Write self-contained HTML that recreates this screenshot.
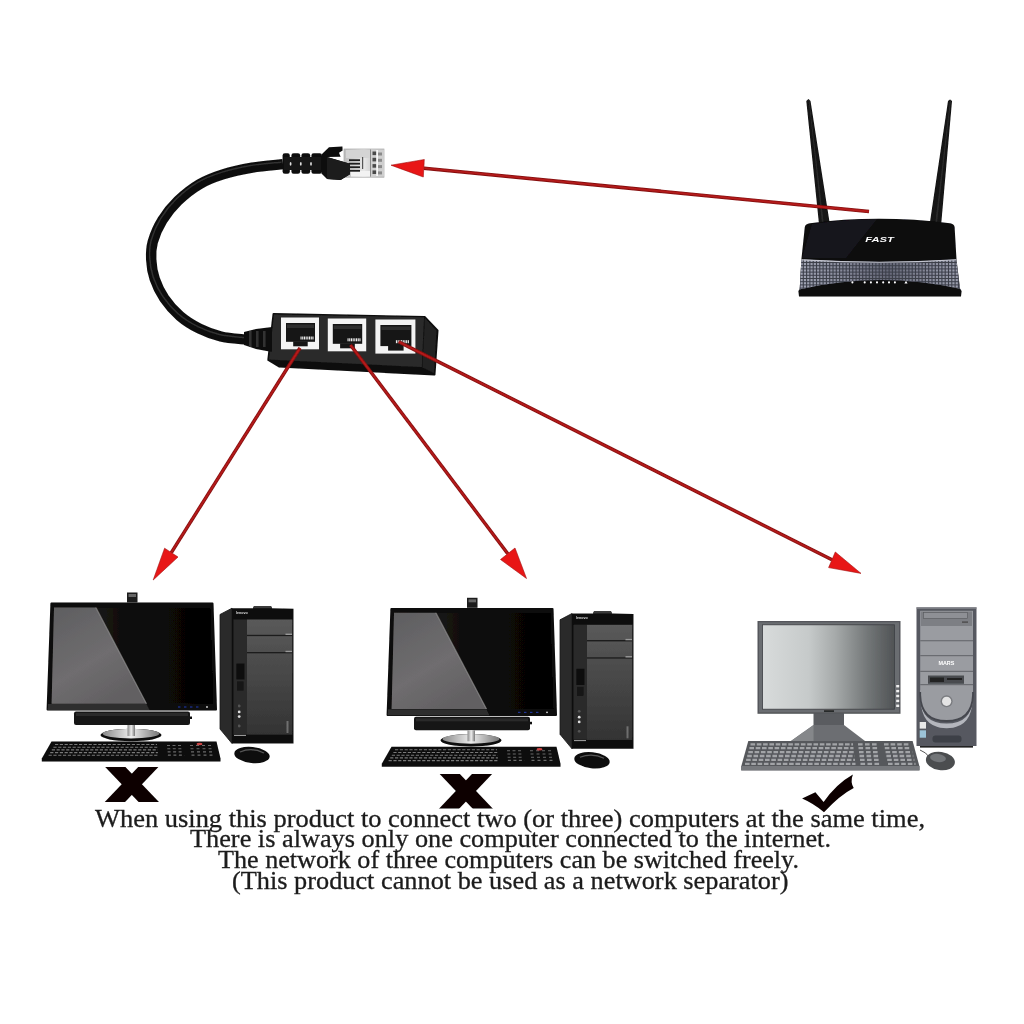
<!DOCTYPE html>
<html lang="en"><head><meta charset="utf-8"><title>RJ45 splitter diagram</title>
<style>html,body{margin:0;padding:0;background:#fff;}body{width:1024px;height:1024px;overflow:hidden;}svg{display:block;}</style>
</head><body>
<svg width="1024" height="1024" viewBox="0 0 1024 1024"><defs>
<linearGradient id="scr3" x1="0" x2="1" y1="0" y2="0"><stop offset="0" stop-color="#d8dbdb"/><stop offset="0.35" stop-color="#c6caca"/><stop offset="0.55" stop-color="#a6aaaa"/><stop offset="0.8" stop-color="#727677"/><stop offset="1" stop-color="#505355"/></linearGradient>
<linearGradient id="refl" x1="0" x2="0.6" y1="0" y2="1"><stop offset="0" stop-color="#5e5e60"/><stop offset="0.6" stop-color="#6f6d6f"/><stop offset="1" stop-color="#626062"/></linearGradient><linearGradient id="scrd" x1="0" x2="1" y1="0" y2="0"><stop offset="0" stop-color="#2a2622"/><stop offset="0.5" stop-color="#0c0b0a"/><stop offset="1" stop-color="#030303"/></linearGradient>
<linearGradient id="panel" x1="0" x2="0" y1="0" y2="1"><stop offset="0" stop-color="#5a5a5a"/><stop offset="1" stop-color="#333"/></linearGradient>
<linearGradient id="silver" x1="0" x2="1" y1="0" y2="0"><stop offset="0" stop-color="#888"/><stop offset="0.5" stop-color="#eee"/><stop offset="1" stop-color="#777"/></linearGradient>
<linearGradient id="grille" x1="0" x2="1" y1="0" y2="0"><stop offset="0" stop-color="#a4a7b6"/><stop offset="0.25" stop-color="#8a8d9d"/><stop offset="0.55" stop-color="#666978"/><stop offset="0.8" stop-color="#8a8d9d"/><stop offset="1" stop-color="#a0a3b2"/></linearGradient>
<linearGradient id="plug" x1="0" x2="1" y1="0" y2="0"><stop offset="0" stop-color="#bbb"/><stop offset="0.5" stop-color="#e8e8e8"/><stop offset="1" stop-color="#aaa"/></linearGradient>
<filter id="soft"><feGaussianBlur stdDeviation="0.45"/></filter>
</defs>
<g filter="url(#soft)">
<path d="M283.0,164.2 C277.9,164.8 262.2,165.9 252.2,167.6 C242.2,169.3 231.7,171.6 222.9,174.4 C214.1,177.2 207.0,179.8 199.5,184.2 C192.0,188.6 184.2,194.8 178.0,200.8 C171.8,206.8 166.5,213.5 162.3,220.3 C158.1,227.1 154.7,235.3 152.8,241.8 C151.0,248.3 150.9,253.2 151.2,259.4 C151.5,265.6 152.5,272.4 154.7,278.9 C156.9,285.4 160.1,292.2 164.3,298.4 C168.5,304.6 174.0,310.9 179.9,316.0 C185.8,321.1 192.7,325.3 199.5,328.7 C206.3,332.1 213.0,334.6 220.9,336.5 C228.8,338.4 242.7,339.2 247.0,339.8" fill="none" stroke="#0d0d0d" stroke-width="10.4"/>
<path d="M281.5,162.2 C276.4,162.8 260.7,163.9 250.7,165.6 C240.7,167.3 230.2,169.6 221.4,172.4 C212.6,175.2 205.5,177.8 198.0,182.2 C190.5,186.6 182.7,192.8 176.5,198.8 C170.3,204.8 165.0,211.5 160.8,218.3 C156.6,225.1 153.2,233.3 151.3,239.8 C149.5,246.3 149.4,251.2 149.7,257.4 C150.0,263.6 151.0,270.4 153.2,276.9 C155.4,283.4 158.6,290.2 162.8,296.4 C167.0,302.6 172.5,308.9 178.4,314.0 C184.3,319.1 191.2,323.3 198.0,326.7 C204.8,330.1 211.5,332.6 219.4,334.5 C227.3,336.4 241.2,337.2 245.5,337.8" fill="none" stroke="#3a3a3a" stroke-width="1.5" opacity="0.8"/>
<g>
<rect x="344" y="149" width="40" height="28.2" fill="url(#plug)" stroke="#a8a8a8" stroke-width="0.7"/>
<rect x="346" y="150" width="24" height="8" fill="#d4d4d4"/>
<rect x="351" y="171" width="20" height="5.5" fill="#f2f2f2"/>
<rect x="370.5" y="149.5" width="13.5" height="27.2" fill="#cfcfcf"/>
<line x1="370.5" y1="149.5" x2="370.5" y2="176.7" stroke="#777" stroke-width="0.8"/>
<rect x="372.5" y="151.5" width="4" height="3.6" fill="#4a4a4a"/>
<rect x="378" y="152.5" width="4" height="3" fill="#8a8a8a"/>
<rect x="372.5" y="157.8" width="4" height="3.6" fill="#4a4a4a"/>
<rect x="378" y="158.8" width="4" height="3" fill="#8a8a8a"/>
<rect x="372.5" y="164.1" width="4" height="3.6" fill="#4a4a4a"/>
<rect x="378" y="165.1" width="4" height="3" fill="#8a8a8a"/>
<rect x="372.5" y="170.4" width="4" height="3.6" fill="#4a4a4a"/>
<rect x="378" y="171.4" width="4" height="3" fill="#8a8a8a"/>
<rect x="376.3" y="150" width="1.6" height="26" fill="#fafafa"/>
<rect x="349" y="159.3" width="11" height="1.8" fill="#1a1a1a"/>
<rect x="349" y="162.8" width="11" height="1.8" fill="#1a1a1a"/>
<rect x="349" y="166.3" width="11" height="1.8" fill="#1a1a1a"/>
<rect x="349" y="169.9" width="11" height="1.8" fill="#1a1a1a"/>
<rect x="362" y="157" width="1.2" height="12" fill="#555"/>
<polygon points="321.5,154.5 329,147.2 342.4,146.6 342.6,150.5 339,152.8 340.6,156.8 327,157 350,163.7 350,174.3 340.6,180 327,179 321.5,173.5" fill="#0d0d0d"/>
<polygon points="327,157 350,163.7 350,174.3 340.6,180 327,179" fill="#1c1c1c"/>
<rect x="282.6" y="153.2" width="7.2" height="20.5" rx="2.2" fill="#0e0e0e"/>
<rect x="291.4" y="153.2" width="8.8" height="20.5" rx="2.2" fill="#0e0e0e"/>
<rect x="301.4" y="153.2" width="8.8" height="20.5" rx="2.2" fill="#0e0e0e"/>
<rect x="311.4" y="153.2" width="10.6" height="20.5" rx="2.2" fill="#0e0e0e"/>
<rect x="284" y="157" width="37" height="13" fill="#181818"/>
<ellipse cx="290.59999999999997" cy="163.9" rx="0.9" ry="1.8" fill="#ddd"/>
<ellipse cx="300.79999999999995" cy="163.9" rx="0.9" ry="1.8" fill="#ddd"/>
<ellipse cx="311.0" cy="163.9" rx="0.9" ry="1.8" fill="#ddd"/>
</g>
<polygon points="273.5,314 424.6,317 437.5,330.5 434.5,374.5 279,366.5 268.3,360" fill="#111" stroke="#0d0d0d" stroke-width="2" stroke-linejoin="round"/>
<polygon points="274,314.5 424,317.2 421.8,367 269,359.5" fill="#2b2b2b"/>
<polygon points="425,318 436.5,330.8 434,373 422.5,367.5" fill="#222"/>
<polygon points="269,360.5 422,368 434,374.5 279.5,366.3" fill="#0b0b0b"/>
<polygon points="244,332 256,329 272,327 272,352 256,349 244,345" fill="#111"/>
<rect x="249" y="331" width="2.5" height="16" fill="#333"/>
<rect x="256" y="331" width="2.5" height="16" fill="#333"/>
<rect x="263" y="331" width="2.5" height="16" fill="#333"/>
<rect x="281" y="317.5" width="38.0" height="31.8" fill="#f4f4f4"/>
<rect x="286.0" y="323.0" width="29.0" height="18.8" fill="#161616"/>
<rect x="293.2" y="341.3" width="14.5" height="5" fill="#161616"/>
<rect x="300.5" y="336.5" width="1.1" height="3" fill="#eee"/>
<rect x="302.2" y="336.5" width="1.1" height="3" fill="#eee"/>
<rect x="303.9" y="336.5" width="1.1" height="3" fill="#eee"/>
<rect x="305.6" y="336.5" width="1.1" height="3" fill="#eee"/>
<rect x="307.3" y="336.5" width="1.1" height="3" fill="#eee"/>
<rect x="309.0" y="336.5" width="1.1" height="3" fill="#eee"/>
<rect x="310.7" y="336.5" width="1.1" height="3" fill="#eee"/>
<rect x="312.4" y="336.5" width="1.1" height="3" fill="#eee"/>
<rect x="287.0" y="324.5" width="27.0" height="3.5" fill="#2e2e2e"/>
<rect x="327.8" y="318.5" width="38.4" height="32.8" fill="#f4f4f4"/>
<rect x="332.8" y="324.0" width="29.4" height="19.8" fill="#161616"/>
<rect x="340.1" y="343.3" width="14.7" height="5" fill="#161616"/>
<rect x="347.5" y="338.3" width="1.1" height="3" fill="#eee"/>
<rect x="349.2" y="338.3" width="1.1" height="3" fill="#eee"/>
<rect x="350.9" y="338.3" width="1.1" height="3" fill="#eee"/>
<rect x="352.6" y="338.3" width="1.1" height="3" fill="#eee"/>
<rect x="354.3" y="338.3" width="1.1" height="3" fill="#eee"/>
<rect x="356.0" y="338.3" width="1.1" height="3" fill="#eee"/>
<rect x="357.7" y="338.3" width="1.1" height="3" fill="#eee"/>
<rect x="359.4" y="338.3" width="1.1" height="3" fill="#eee"/>
<rect x="333.8" y="325.5" width="27.4" height="3.5" fill="#2e2e2e"/>
<rect x="375.4" y="319.5" width="40.0" height="34.1" fill="#f4f4f4"/>
<rect x="380.4" y="325.0" width="31.0" height="21.1" fill="#161616"/>
<rect x="388.1" y="345.6" width="15.5" height="5" fill="#161616"/>
<rect x="395.9" y="340.2" width="1.1" height="3" fill="#eee"/>
<rect x="397.6" y="340.2" width="1.1" height="3" fill="#eee"/>
<rect x="399.3" y="340.2" width="1.1" height="3" fill="#eee"/>
<rect x="401.0" y="340.2" width="1.1" height="3" fill="#eee"/>
<rect x="402.7" y="340.2" width="1.1" height="3" fill="#eee"/>
<rect x="404.4" y="340.2" width="1.1" height="3" fill="#eee"/>
<rect x="406.1" y="340.2" width="1.1" height="3" fill="#eee"/>
<rect x="407.8" y="340.2" width="1.1" height="3" fill="#eee"/>
<rect x="381.4" y="326.5" width="29.0" height="3.5" fill="#2e2e2e"/>
<polygon points="806.3,101 808.4,99 810.5,101 829.8,224 819,224" fill="#121212"/>
<polygon points="808.4,99 809.4,100 824,224 822,224" fill="#333" opacity="0.7"/>
<polygon points="948,101 950,99.5 952,101 941.2,224 929.7,224" fill="#121212"/>
<polygon points="950,99.5 951,100.5 937,224 935,224" fill="#333" opacity="0.7"/>
<path d="M804.8,227 Q805.5,223.8 810,223.2 Q878,214.3 950,223.2 Q954,223.8 954.6,227 L956.5,259.5 L960,288.5 L961.6,291 L961,296.4 L799,296.4 L798.4,291 L799.7,289 L801.4,259.5 Z" fill="#0a0a0c"/>
<path d="M812,224 Q845,219.5 877,219 L846,258 L802,258 Z" fill="#1d1822" opacity="0.8"/>
<clipPath id="gcl"><path d="M801.4,259.5 Q880,264.5 956.3,259.5 L959.8,288.8 Q880,271 799.7,289.4 Z"/></clipPath>
<g clip-path="url(#gcl)"><rect x="795" y="255" width="170" height="40" fill="url(#grille)"/>
<line x1="800.0" y1="258" x2="800.0" y2="291" stroke="#3c3f4a" stroke-width="1.1"/>
<line x1="803.3" y1="258" x2="803.3" y2="291" stroke="#3c3f4a" stroke-width="1.1"/>
<line x1="806.6" y1="258" x2="806.6" y2="291" stroke="#3c3f4a" stroke-width="1.1"/>
<line x1="809.9" y1="258" x2="809.9" y2="291" stroke="#3c3f4a" stroke-width="1.1"/>
<line x1="813.2" y1="258" x2="813.2" y2="291" stroke="#3c3f4a" stroke-width="1.1"/>
<line x1="816.5" y1="258" x2="816.5" y2="291" stroke="#3c3f4a" stroke-width="1.1"/>
<line x1="819.8" y1="258" x2="819.8" y2="291" stroke="#3c3f4a" stroke-width="1.1"/>
<line x1="823.1" y1="258" x2="823.1" y2="291" stroke="#3c3f4a" stroke-width="1.1"/>
<line x1="826.4" y1="258" x2="826.4" y2="291" stroke="#3c3f4a" stroke-width="1.1"/>
<line x1="829.7" y1="258" x2="829.7" y2="291" stroke="#3c3f4a" stroke-width="1.1"/>
<line x1="833.0" y1="258" x2="833.0" y2="291" stroke="#3c3f4a" stroke-width="1.1"/>
<line x1="836.3" y1="258" x2="836.3" y2="291" stroke="#3c3f4a" stroke-width="1.1"/>
<line x1="839.6" y1="258" x2="839.6" y2="291" stroke="#3c3f4a" stroke-width="1.1"/>
<line x1="842.9" y1="258" x2="842.9" y2="291" stroke="#3c3f4a" stroke-width="1.1"/>
<line x1="846.2" y1="258" x2="846.2" y2="291" stroke="#3c3f4a" stroke-width="1.1"/>
<line x1="849.5" y1="258" x2="849.5" y2="291" stroke="#3c3f4a" stroke-width="1.1"/>
<line x1="852.8" y1="258" x2="852.8" y2="291" stroke="#3c3f4a" stroke-width="1.1"/>
<line x1="856.1" y1="258" x2="856.1" y2="291" stroke="#3c3f4a" stroke-width="1.1"/>
<line x1="859.4" y1="258" x2="859.4" y2="291" stroke="#3c3f4a" stroke-width="1.1"/>
<line x1="862.7" y1="258" x2="862.7" y2="291" stroke="#3c3f4a" stroke-width="1.1"/>
<line x1="866.0" y1="258" x2="866.0" y2="291" stroke="#3c3f4a" stroke-width="1.1"/>
<line x1="869.3" y1="258" x2="869.3" y2="291" stroke="#3c3f4a" stroke-width="1.1"/>
<line x1="872.6" y1="258" x2="872.6" y2="291" stroke="#3c3f4a" stroke-width="1.1"/>
<line x1="875.9" y1="258" x2="875.9" y2="291" stroke="#3c3f4a" stroke-width="1.1"/>
<line x1="879.2" y1="258" x2="879.2" y2="291" stroke="#3c3f4a" stroke-width="1.1"/>
<line x1="882.5" y1="258" x2="882.5" y2="291" stroke="#3c3f4a" stroke-width="1.1"/>
<line x1="885.8" y1="258" x2="885.8" y2="291" stroke="#3c3f4a" stroke-width="1.1"/>
<line x1="889.1" y1="258" x2="889.1" y2="291" stroke="#3c3f4a" stroke-width="1.1"/>
<line x1="892.4" y1="258" x2="892.4" y2="291" stroke="#3c3f4a" stroke-width="1.1"/>
<line x1="895.7" y1="258" x2="895.7" y2="291" stroke="#3c3f4a" stroke-width="1.1"/>
<line x1="899.0" y1="258" x2="899.0" y2="291" stroke="#3c3f4a" stroke-width="1.1"/>
<line x1="902.3" y1="258" x2="902.3" y2="291" stroke="#3c3f4a" stroke-width="1.1"/>
<line x1="905.6" y1="258" x2="905.6" y2="291" stroke="#3c3f4a" stroke-width="1.1"/>
<line x1="908.9" y1="258" x2="908.9" y2="291" stroke="#3c3f4a" stroke-width="1.1"/>
<line x1="912.2" y1="258" x2="912.2" y2="291" stroke="#3c3f4a" stroke-width="1.1"/>
<line x1="915.5" y1="258" x2="915.5" y2="291" stroke="#3c3f4a" stroke-width="1.1"/>
<line x1="918.8" y1="258" x2="918.8" y2="291" stroke="#3c3f4a" stroke-width="1.1"/>
<line x1="922.1" y1="258" x2="922.1" y2="291" stroke="#3c3f4a" stroke-width="1.1"/>
<line x1="925.4" y1="258" x2="925.4" y2="291" stroke="#3c3f4a" stroke-width="1.1"/>
<line x1="928.7" y1="258" x2="928.7" y2="291" stroke="#3c3f4a" stroke-width="1.1"/>
<line x1="932.0" y1="258" x2="932.0" y2="291" stroke="#3c3f4a" stroke-width="1.1"/>
<line x1="935.3" y1="258" x2="935.3" y2="291" stroke="#3c3f4a" stroke-width="1.1"/>
<line x1="938.6" y1="258" x2="938.6" y2="291" stroke="#3c3f4a" stroke-width="1.1"/>
<line x1="941.9" y1="258" x2="941.9" y2="291" stroke="#3c3f4a" stroke-width="1.1"/>
<line x1="945.2" y1="258" x2="945.2" y2="291" stroke="#3c3f4a" stroke-width="1.1"/>
<line x1="948.5" y1="258" x2="948.5" y2="291" stroke="#3c3f4a" stroke-width="1.1"/>
<line x1="951.8" y1="258" x2="951.8" y2="291" stroke="#3c3f4a" stroke-width="1.1"/>
<line x1="955.1" y1="258" x2="955.1" y2="291" stroke="#3c3f4a" stroke-width="1.1"/>
<line x1="958.4" y1="258" x2="958.4" y2="291" stroke="#3c3f4a" stroke-width="1.1"/>
<line x1="961.7" y1="258" x2="961.7" y2="291" stroke="#3c3f4a" stroke-width="1.1"/>
<line x1="798" y1="262.5" x2="962" y2="262.5" stroke="#3c3f4a" stroke-width="1"/>
<line x1="798" y1="265.7" x2="962" y2="265.7" stroke="#3c3f4a" stroke-width="1"/>
<line x1="798" y1="268.9" x2="962" y2="268.9" stroke="#3c3f4a" stroke-width="1"/>
<line x1="798" y1="272.1" x2="962" y2="272.1" stroke="#3c3f4a" stroke-width="1"/>
<line x1="798" y1="275.3" x2="962" y2="275.3" stroke="#3c3f4a" stroke-width="1"/>
<line x1="798" y1="278.5" x2="962" y2="278.5" stroke="#3c3f4a" stroke-width="1"/>
<line x1="798" y1="281.7" x2="962" y2="281.7" stroke="#3c3f4a" stroke-width="1"/>
<line x1="798" y1="284.9" x2="962" y2="284.9" stroke="#3c3f4a" stroke-width="1"/>
<line x1="798" y1="288.1" x2="962" y2="288.1" stroke="#3c3f4a" stroke-width="1"/>
</g>
<path d="M801.4,259.8 Q880,264.8 956.3,259.8" fill="none" stroke="#c4c6d0" stroke-width="1.1"/>
<circle cx="852.4" cy="282.4" r="1.05" fill="#fff"/>
<circle cx="864.7" cy="282.4" r="1.05" fill="#fff"/>
<circle cx="870.9" cy="282.4" r="1.05" fill="#fff"/>
<circle cx="877" cy="282.4" r="1.05" fill="#fff"/>
<circle cx="883.2" cy="282.4" r="1.05" fill="#fff"/>
<circle cx="889" cy="282.4" r="1.05" fill="#fff"/>
<circle cx="894.9" cy="282.4" r="1.05" fill="#fff"/>
<polygon points="904.4,283.6 906,280.8 907.6,283.6" fill="#fff"/>
<text x="879.5" y="241.9" font-family="'Liberation Sans', sans-serif" font-weight="bold" font-style="italic" font-size="7.4" fill="#fff" text-anchor="middle" textLength="28.5" lengthAdjust="spacingAndGlyphs">FAST</text>
<g transform="translate(0,0)">
<rect x="127" y="592.5" width="10.5" height="10" fill="#1a1a1a"/><rect x="128.5" y="594" width="7.5" height="3" fill="#666"/>
<polygon points="51.4,603.6 212.5,603.6 216,709.6 47.6,709.6" fill="#0a0a0a" stroke="#0a0a0a" stroke-width="2" stroke-linejoin="round"/>
<polygon points="54,607.5 210.5,607.5 213.5,703.7 51.6,703.7" fill="url(#scrd)"/>
<polygon points="54,607.5 95.7,607.5 146.5,703.7 51.6,703.7" fill="url(#refl)"/>
<polygon points="48,704 146.5,704 149.5,710 47.6,710" fill="#2e2e2e"/>
<polygon points="95.2,607.5 96.6,607.5 147.2,703.7 145.8,703.7" fill="#aaa" opacity="0.55"/>
<rect x="178" y="706.5" width="2.5" height="1" fill="#35f" opacity="0.7"/>
<rect x="184" y="706.5" width="2.5" height="1" fill="#35f" opacity="0.7"/>
<rect x="190" y="706.5" width="2.5" height="1" fill="#35f" opacity="0.7"/>
<rect x="196" y="706.5" width="2.5" height="1" fill="#35f" opacity="0.7"/>
<circle cx="207" cy="707" r="0.9" fill="#ddd"/>
<rect x="74" y="711.5" width="116" height="13.5" rx="2" fill="#161616"/>
<rect x="76" y="713" width="112" height="3" fill="#2c2c2c"/>
<rect x="190" y="716.5" width="2" height="2.5" fill="#111"/>
<ellipse cx="131" cy="735" rx="30.5" ry="6.2" fill="#0a0a0a"/>
<ellipse cx="131" cy="733.6" rx="28.5" ry="4.8" fill="url(#silver)"/>
<rect x="127.5" y="725" width="7.5" height="11" fill="url(#silver)"/>
<polygon points="51.5,741.5 216.5,741.5 220.5,758.5 220.5,761.5 41.8,761.5 41.8,758.5" fill="#0c0c0c"/>
<line x1="55.0" y1="744.5" x2="157.0" y2="744.5" stroke="#787878" stroke-width="1.1" stroke-dasharray="3.2 1.6"/>
<line x1="53.4" y1="747.2" x2="157.3" y2="747.2" stroke="#787878" stroke-width="1.1" stroke-dasharray="3.2 1.6"/>
<line x1="51.8" y1="749.9" x2="157.6" y2="749.9" stroke="#787878" stroke-width="1.1" stroke-dasharray="3.2 1.6"/>
<line x1="50.2" y1="752.6" x2="157.9" y2="752.6" stroke="#787878" stroke-width="1.1" stroke-dasharray="3.2 1.6"/>
<line x1="48.6" y1="755.3" x2="158.2" y2="755.3" stroke="#787878" stroke-width="1.1" stroke-dasharray="3.2 1.6"/>
<line x1="167.0" y1="745.5" x2="183.0" y2="745.5" stroke="#6a6a6a" stroke-width="1.1" stroke-dasharray="3 2.5"/>
<line x1="190.0" y1="745.5" x2="213.0" y2="745.5" stroke="#6a6a6a" stroke-width="1.1" stroke-dasharray="3 3"/>
<line x1="167.3" y1="748.7" x2="183.5" y2="748.7" stroke="#6a6a6a" stroke-width="1.1" stroke-dasharray="3 2.5"/>
<line x1="190.5" y1="748.7" x2="213.8" y2="748.7" stroke="#6a6a6a" stroke-width="1.1" stroke-dasharray="3 3"/>
<line x1="167.6" y1="751.9" x2="184.0" y2="751.9" stroke="#6a6a6a" stroke-width="1.1" stroke-dasharray="3 2.5"/>
<line x1="191.0" y1="751.9" x2="214.6" y2="751.9" stroke="#6a6a6a" stroke-width="1.1" stroke-dasharray="3 3"/>
<line x1="167.9" y1="755.1" x2="184.5" y2="755.1" stroke="#6a6a6a" stroke-width="1.1" stroke-dasharray="3 2.5"/>
<line x1="191.5" y1="755.1" x2="215.4" y2="755.1" stroke="#6a6a6a" stroke-width="1.1" stroke-dasharray="3 3"/>
<ellipse cx="199.5" cy="744" rx="3" ry="1.2" fill="#c44"/>
<polygon points="220,614.5 232,608.2 232,743.5 220,729" fill="#2c2c2c" stroke="#111" stroke-width="0.8"/>
<polygon points="232,608.2 253,608.2 254,606 271,606 272,608.2 293.5,608.8 293.5,743.5 232,743.5" fill="#0e0e0e"/>
<polygon points="254,606 271,606 272,608.2 253,608.2" fill="#3a3a3a"/>
<rect x="233.5" y="619.5" width="13.5" height="115" fill="#2a2a2a"/>
<rect x="247" y="619.5" width="45.3" height="115.2" fill="url(#panel)"/>
<rect x="247" y="634.8" width="45.3" height="1.3" fill="#1a1a1a"/><rect x="247" y="652" width="45.3" height="1.3" fill="#1a1a1a"/>
<rect x="285.5" y="633.6" width="6.5" height="1.4" fill="#999"/><rect x="285.5" y="650.8" width="6.5" height="1.4" fill="#999"/>
<rect x="236.4" y="663.5" width="8" height="16" fill="#0a0a0a"/><rect x="237" y="681.5" width="6.5" height="9" fill="#141414"/>
<circle cx="239.2" cy="706" r="1.4" fill="#555"/>
<circle cx="239.2" cy="711.9" r="1.4" fill="#ddd"/>
<circle cx="239.2" cy="716.6" r="1.4" fill="#ddd"/>
<circle cx="239.2" cy="726" r="1.4" fill="#555"/>
<rect x="234" y="734.9" width="12" height="0.9" fill="#bbb"/>
<rect x="286.5" y="721" width="2" height="12" fill="#888" opacity="0.7"/>
<text x="241.8" y="614" font-family="'Liberation Sans', sans-serif" font-weight="bold" font-size="3.6" fill="#ddd" text-anchor="middle">lenovo</text>
<ellipse cx="252" cy="755" rx="17.8" ry="8" fill="#101010" transform="rotate(6 252 755)"/>
<path d="M240,752 Q252,747 264,753" fill="none" stroke="#777" stroke-width="1.2" opacity="0.7"/>
</g>
<g transform="translate(340,5.3)">
<rect x="127" y="592.5" width="10.5" height="10" fill="#1a1a1a"/><rect x="128.5" y="594" width="7.5" height="3" fill="#666"/>
<polygon points="51.4,603.6 212.5,603.6 216,709.6 47.6,709.6" fill="#0a0a0a" stroke="#0a0a0a" stroke-width="2" stroke-linejoin="round"/>
<polygon points="54,607.5 210.5,607.5 213.5,703.7 51.6,703.7" fill="url(#scrd)"/>
<polygon points="54,607.5 95.7,607.5 146.5,703.7 51.6,703.7" fill="url(#refl)"/>
<polygon points="48,704 146.5,704 149.5,710 47.6,710" fill="#2e2e2e"/>
<polygon points="95.2,607.5 96.6,607.5 147.2,703.7 145.8,703.7" fill="#aaa" opacity="0.55"/>
<rect x="178" y="706.5" width="2.5" height="1" fill="#35f" opacity="0.7"/>
<rect x="184" y="706.5" width="2.5" height="1" fill="#35f" opacity="0.7"/>
<rect x="190" y="706.5" width="2.5" height="1" fill="#35f" opacity="0.7"/>
<rect x="196" y="706.5" width="2.5" height="1" fill="#35f" opacity="0.7"/>
<circle cx="207" cy="707" r="0.9" fill="#ddd"/>
<rect x="74" y="711.5" width="116" height="13.5" rx="2" fill="#161616"/>
<rect x="76" y="713" width="112" height="3" fill="#2c2c2c"/>
<rect x="190" y="716.5" width="2" height="2.5" fill="#111"/>
<ellipse cx="131" cy="735" rx="30.5" ry="6.2" fill="#0a0a0a"/>
<ellipse cx="131" cy="733.6" rx="28.5" ry="4.8" fill="url(#silver)"/>
<rect x="127.5" y="725" width="7.5" height="11" fill="url(#silver)"/>
<polygon points="51.5,741.5 216.5,741.5 220.5,758.5 220.5,761.5 41.8,761.5 41.8,758.5" fill="#0c0c0c"/>
<line x1="55.0" y1="744.5" x2="157.0" y2="744.5" stroke="#787878" stroke-width="1.1" stroke-dasharray="3.2 1.6"/>
<line x1="53.4" y1="747.2" x2="157.3" y2="747.2" stroke="#787878" stroke-width="1.1" stroke-dasharray="3.2 1.6"/>
<line x1="51.8" y1="749.9" x2="157.6" y2="749.9" stroke="#787878" stroke-width="1.1" stroke-dasharray="3.2 1.6"/>
<line x1="50.2" y1="752.6" x2="157.9" y2="752.6" stroke="#787878" stroke-width="1.1" stroke-dasharray="3.2 1.6"/>
<line x1="48.6" y1="755.3" x2="158.2" y2="755.3" stroke="#787878" stroke-width="1.1" stroke-dasharray="3.2 1.6"/>
<line x1="167.0" y1="745.5" x2="183.0" y2="745.5" stroke="#6a6a6a" stroke-width="1.1" stroke-dasharray="3 2.5"/>
<line x1="190.0" y1="745.5" x2="213.0" y2="745.5" stroke="#6a6a6a" stroke-width="1.1" stroke-dasharray="3 3"/>
<line x1="167.3" y1="748.7" x2="183.5" y2="748.7" stroke="#6a6a6a" stroke-width="1.1" stroke-dasharray="3 2.5"/>
<line x1="190.5" y1="748.7" x2="213.8" y2="748.7" stroke="#6a6a6a" stroke-width="1.1" stroke-dasharray="3 3"/>
<line x1="167.6" y1="751.9" x2="184.0" y2="751.9" stroke="#6a6a6a" stroke-width="1.1" stroke-dasharray="3 2.5"/>
<line x1="191.0" y1="751.9" x2="214.6" y2="751.9" stroke="#6a6a6a" stroke-width="1.1" stroke-dasharray="3 3"/>
<line x1="167.9" y1="755.1" x2="184.5" y2="755.1" stroke="#6a6a6a" stroke-width="1.1" stroke-dasharray="3 2.5"/>
<line x1="191.5" y1="755.1" x2="215.4" y2="755.1" stroke="#6a6a6a" stroke-width="1.1" stroke-dasharray="3 3"/>
<ellipse cx="199.5" cy="744" rx="3" ry="1.2" fill="#c44"/>
<polygon points="220,614.5 232,608.2 232,743.5 220,729" fill="#2c2c2c" stroke="#111" stroke-width="0.8"/>
<polygon points="232,608.2 253,608.2 254,606 271,606 272,608.2 293.5,608.8 293.5,743.5 232,743.5" fill="#0e0e0e"/>
<polygon points="254,606 271,606 272,608.2 253,608.2" fill="#3a3a3a"/>
<rect x="233.5" y="619.5" width="13.5" height="115" fill="#2a2a2a"/>
<rect x="247" y="619.5" width="45.3" height="115.2" fill="url(#panel)"/>
<rect x="247" y="634.8" width="45.3" height="1.3" fill="#1a1a1a"/><rect x="247" y="652" width="45.3" height="1.3" fill="#1a1a1a"/>
<rect x="285.5" y="633.6" width="6.5" height="1.4" fill="#999"/><rect x="285.5" y="650.8" width="6.5" height="1.4" fill="#999"/>
<rect x="236.4" y="663.5" width="8" height="16" fill="#0a0a0a"/><rect x="237" y="681.5" width="6.5" height="9" fill="#141414"/>
<circle cx="239.2" cy="706" r="1.4" fill="#555"/>
<circle cx="239.2" cy="711.9" r="1.4" fill="#ddd"/>
<circle cx="239.2" cy="716.6" r="1.4" fill="#ddd"/>
<circle cx="239.2" cy="726" r="1.4" fill="#555"/>
<rect x="234" y="734.9" width="12" height="0.9" fill="#bbb"/>
<rect x="286.5" y="721" width="2" height="12" fill="#888" opacity="0.7"/>
<text x="241.8" y="614" font-family="'Liberation Sans', sans-serif" font-weight="bold" font-size="3.6" fill="#ddd" text-anchor="middle">lenovo</text>
<ellipse cx="252" cy="755" rx="17.8" ry="8" fill="#101010" transform="rotate(6 252 755)"/>
<path d="M240,752 Q252,747 264,753" fill="none" stroke="#777" stroke-width="1.2" opacity="0.7"/>
</g>
<g><clipPath id="xc131"><rect x="91.69999999999999" y="767.4" width="80" height="34.200000000000045"/></clipPath><g clip-path="url(#xc131)" stroke="#0a0606" stroke-width="14.6"><line x1="109.96" y1="761.4" x2="154.14" y2="807.6"/><line x1="153.64" y1="761.4" x2="109.55999999999999" y2="807.6"/></g></g>
<g><clipPath id="xc465"><rect x="425.8" y="774" width="80" height="34.39999999999998"/></clipPath><g clip-path="url(#xc465)" stroke="#0a0606" stroke-width="14.6"><line x1="444.06" y1="768" x2="488.24" y2="814.4"/><line x1="487.74" y1="768" x2="443.66" y2="814.4"/></g></g>
<g>
<rect x="813.5" y="713" width="30.5" height="26" fill="#5a5c60"/>
<polygon points="813.5,725 844,725 865,741 791,741" fill="#6c6e72"/>
<polygon points="813.5,725 813.5,741 791,741" fill="#85878a"/>
<rect x="757.5" y="621" width="143" height="92.8" fill="#55575b"/>
<rect x="759" y="622.3" width="140" height="90" fill="#6b6d71"/>
<rect x="762.5" y="624.8" width="132" height="84.4" fill="url(#scr3)" stroke="#3c3e42" stroke-width="0.8"/>
<rect x="896.2" y="685.0" width="3" height="2.4" fill="#f0f0f0"/>
<rect x="896.2" y="689.9" width="3" height="2.4" fill="#f0f0f0"/>
<rect x="896.2" y="694.8" width="3" height="2.4" fill="#f0f0f0"/>
<rect x="896.2" y="699.7" width="3" height="2.4" fill="#f0f0f0"/>
<rect x="896.2" y="704.6" width="3" height="2.4" fill="#f0f0f0"/>
<rect x="824" y="710.3" width="10" height="1.6" fill="#222"/>
<polygon points="748.3,741 912.6,741 919.5,766.5 919.5,770.3 741.2,770.3 741.2,766.5" fill="#56585c"/>
<polygon points="741.2,766 919.5,766 919.5,770.6 741.2,770.6" fill="#77797d"/>
<line x1="750.5" y1="744.3" x2="853.0" y2="744.3" stroke="#a2a4a7" stroke-width="2.3" stroke-dasharray="4.6 1.7"/>
<line x1="858.0" y1="744.3" x2="878.0" y2="744.3" stroke="#a2a4a7" stroke-width="2.3" stroke-dasharray="4.6 2.4"/>
<line x1="884.0" y1="744.3" x2="910.0" y2="744.3" stroke="#a2a4a7" stroke-width="2.3" stroke-dasharray="4.6 2"/>
<line x1="749.4" y1="748.2" x2="853.5" y2="748.2" stroke="#a2a4a7" stroke-width="2.3" stroke-dasharray="4.6 1.7"/>
<line x1="858.5" y1="748.2" x2="878.7" y2="748.2" stroke="#a2a4a7" stroke-width="2.3" stroke-dasharray="4.6 2.4"/>
<line x1="884.8" y1="748.2" x2="911.1" y2="748.2" stroke="#a2a4a7" stroke-width="2.3" stroke-dasharray="4.6 2"/>
<line x1="748.3" y1="752.1" x2="854.0" y2="752.1" stroke="#a2a4a7" stroke-width="2.3" stroke-dasharray="4.6 1.7"/>
<line x1="859.0" y1="752.1" x2="879.4" y2="752.1" stroke="#a2a4a7" stroke-width="2.3" stroke-dasharray="4.6 2.4"/>
<line x1="885.6" y1="752.1" x2="912.2" y2="752.1" stroke="#a2a4a7" stroke-width="2.3" stroke-dasharray="4.6 2"/>
<line x1="747.2" y1="756.0" x2="854.5" y2="756.0" stroke="#a2a4a7" stroke-width="2.3" stroke-dasharray="4.6 1.7"/>
<line x1="859.5" y1="756.0" x2="880.1" y2="756.0" stroke="#a2a4a7" stroke-width="2.3" stroke-dasharray="4.6 2.4"/>
<line x1="886.4" y1="756.0" x2="913.3" y2="756.0" stroke="#a2a4a7" stroke-width="2.3" stroke-dasharray="4.6 2"/>
<line x1="746.1" y1="759.9" x2="855.0" y2="759.9" stroke="#a2a4a7" stroke-width="2.3" stroke-dasharray="4.6 1.7"/>
<line x1="860.0" y1="759.9" x2="880.8" y2="759.9" stroke="#a2a4a7" stroke-width="2.3" stroke-dasharray="4.6 2.4"/>
<line x1="887.2" y1="759.9" x2="914.4" y2="759.9" stroke="#a2a4a7" stroke-width="2.3" stroke-dasharray="4.6 2"/>
<line x1="745.0" y1="763.8" x2="855.5" y2="763.8" stroke="#a2a4a7" stroke-width="2.3" stroke-dasharray="4.6 1.7"/>
<line x1="860.5" y1="763.8" x2="881.5" y2="763.8" stroke="#a2a4a7" stroke-width="2.3" stroke-dasharray="4.6 2.4"/>
<line x1="888.0" y1="763.8" x2="915.5" y2="763.8" stroke="#a2a4a7" stroke-width="2.3" stroke-dasharray="4.6 2"/>
<rect x="916.5" y="607.3" width="60" height="138.7" fill="#565960"/><rect x="916.5" y="607.3" width="60" height="1.4" fill="#8a8c92"/>
<rect x="920.2" y="610.8" width="52.8" height="85" fill="#9a9ca1"/>
<path d="M920.2,690 L920.2,695 Q921,721 946.6,721 Q972,721 973,695 L973,690 Z" fill="#9a9ca1"/>
<path d="M920.6,699 Q921.5,723.6 946.6,723.6 Q971.6,723.6 972.6,699 Q972,728.2 946.6,728.2 Q921.2,728.2 920.6,699 Z" fill="#b4b6bd"/>
<path d="M920.2,692 L920.2,695 Q921,721 946.6,721 Q972,721 973,695 L973,692" fill="none" stroke="#44464e" stroke-width="1.8"/>
<rect x="921" y="611.5" width="51" height="14.5" fill="#7d7f84"/><rect x="923.5" y="612.5" width="44" height="6" fill="#8e9095" stroke="#55575b" stroke-width="0.6"/>
<rect x="962" y="621.5" width="6" height="1.2" fill="#444"/>
<rect x="920.2" y="640.1" width="52.8" height="1.2" fill="#6a6c71"/>
<rect x="920.2" y="655.0" width="52.8" height="1.2" fill="#6a6c71"/>
<rect x="920.2" y="670.8" width="52.8" height="1.2" fill="#6a6c71"/>
<rect x="920.2" y="684.0" width="52.8" height="1.2" fill="#6a6c71"/>
<rect x="928" y="675.5" width="36" height="8.3" fill="#4a4c50"/><rect x="930" y="677.5" width="14" height="4.5" fill="#222"/><rect x="947" y="678" width="15" height="2" fill="#222"/>
<text x="946.4" y="665.2" font-family="'Liberation Sans', sans-serif" font-weight="bold" font-size="4.6" fill="#fff" text-anchor="middle" textLength="16" lengthAdjust="spacingAndGlyphs">MARS</text>
<circle cx="946.6" cy="701.3" r="6" fill="#7a7c80"/><circle cx="946.6" cy="701.3" r="4.6" fill="#e4e4e4"/>
<rect x="919.7" y="722" width="6.3" height="6.6" fill="#e8e8e8"/><rect x="919.7" y="730.3" width="6.3" height="7.4" fill="#9cc3d8"/>
<rect x="932.5" y="735.6" width="29" height="7" rx="3" fill="#3e4046"/>
<rect x="920" y="746" width="53" height="1.6" fill="#222"/>
<path d="M920,750 Q926,752 930,758" fill="none" stroke="#555" stroke-width="1"/>
<ellipse cx="940.4" cy="761" rx="14.6" ry="9.2" fill="#4b4d50" transform="rotate(8 940.4 761)"/>
<ellipse cx="938" cy="758" rx="8" ry="4" fill="#7c7e82" opacity="0.8" transform="rotate(8 938 758)"/>
</g>
<path d="M802.1,798.6 L815.4,792.3 L823.6,802.1 Q836,784 852.9,774.5 Q850,781.8 853.7,788 Q840,795 824,812.3 Q813.5,803.5 802.1,798.6 Z" fill="#0a0606"/>
<line x1="869" y1="211.5" x2="423.8" y2="168.2" stroke="#861010" stroke-width="3.5"/>
<line x1="869" y1="211.5" x2="423.8" y2="168.2" stroke="#b41a1a" stroke-width="1.8"/>
<polygon points="391,165.2 424.3,159.5 423.3,177" fill="#e81414" stroke="#a01010" stroke-width="0.6"/>
<line x1="300" y1="348" x2="171.3" y2="552.6" stroke="#861010" stroke-width="3.5"/>
<line x1="300" y1="348" x2="171.3" y2="552.6" stroke="#b41a1a" stroke-width="1.8"/>
<polygon points="153.2,580 164.6,548.2 178,557" fill="#e81414" stroke="#a01010" stroke-width="0.6"/>
<line x1="350.5" y1="345" x2="507.8" y2="553.8" stroke="#861010" stroke-width="3.5"/>
<line x1="350.5" y1="345" x2="507.8" y2="553.8" stroke="#b41a1a" stroke-width="1.8"/>
<polygon points="526.5,578.5 500.5,559.5 515,548" fill="#e81414" stroke="#a01010" stroke-width="0.6"/>
<line x1="398.8" y1="341.8" x2="832.0" y2="559.8" stroke="#861010" stroke-width="3.5"/>
<line x1="398.8" y1="341.8" x2="832.0" y2="559.8" stroke="#b41a1a" stroke-width="1.8"/>
<polygon points="861,573.4 835.3,552 828.6,567.6" fill="#e81414" stroke="#a01010" stroke-width="0.6"/>
</g>
<text x="95" y="826.6" textLength="830" lengthAdjust="spacingAndGlyphs" font-family="'Liberation Serif', serif" font-size="24.3" fill="#1c1c1c" stroke="#1c1c1c" stroke-width="0.3">When using this product to connect two (or three) computers at the same time,</text>
<text x="190" y="847.3" textLength="641" lengthAdjust="spacingAndGlyphs" font-family="'Liberation Serif', serif" font-size="24.3" fill="#1c1c1c" stroke="#1c1c1c" stroke-width="0.3">There is always only one computer connected to the internet.</text>
<text x="218" y="868.3" textLength="581" lengthAdjust="spacingAndGlyphs" font-family="'Liberation Serif', serif" font-size="24.3" fill="#1c1c1c" stroke="#1c1c1c" stroke-width="0.3">The network of three computers can be switched freely.</text>
<text x="232" y="889.3" textLength="556.5" lengthAdjust="spacingAndGlyphs" font-family="'Liberation Serif', serif" font-size="24.3" fill="#1c1c1c" stroke="#1c1c1c" stroke-width="0.3">(This product cannot be used as a network separator)</text></svg>
</body></html>
